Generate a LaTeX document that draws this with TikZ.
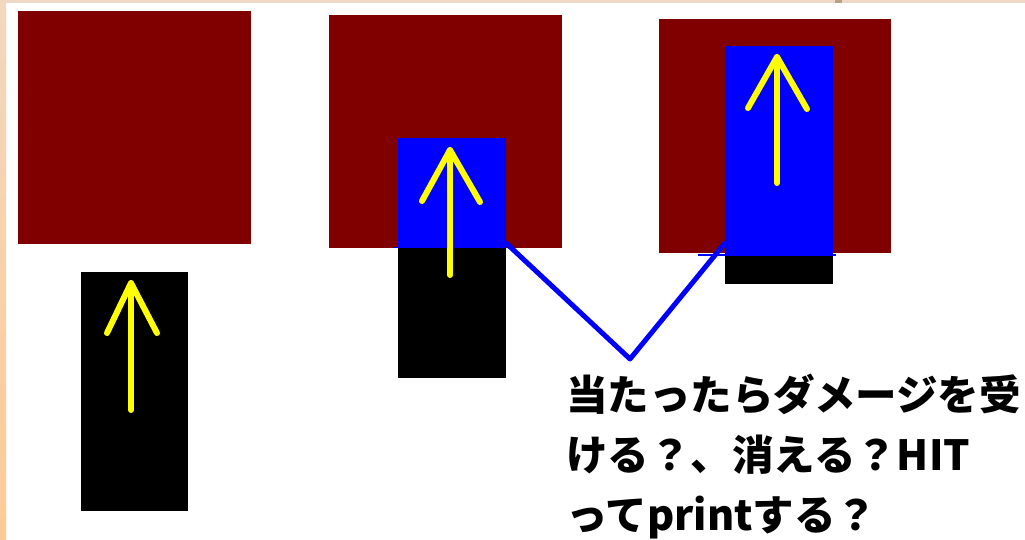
\documentclass[tikz,border=0pt]{standalone}
\usepackage{fontspec}
\newfontfamily\jpfont{Noto Sans CJK JP}
\definecolor{darkred}{HTML}{800000}
\definecolor{pureblue}{HTML}{0000FF}
\definecolor{pureyellow}{HTML}{FFFF00}
\definecolor{edgetop}{HTML}{EED9C6}
\definecolor{edgeleft}{HTML}{F2D7BF}
\definecolor{edgeleftlow}{HTML}{FDCB97}
\definecolor{edgemark}{HTML}{B9A086}
\begin{document}
\begin{tikzpicture}[x=1pt,y=-1pt,
  box/.style={inner sep=0pt, outer sep=0pt, anchor=north west, draw=none},
  enemy/.style={box, fill=darkred},
  player/.style={box, fill=black},
  hitbox/.style={box, fill=pureblue},
  arrowline/.style={draw=pureyellow, line width=6pt, line cap=round, line join=round},
  hitline/.style={draw=pureblue, line width=5pt, line cap=round, line join=round},
  thinline/.style={draw=pureblue, line width=1.2pt},
  note/.style={inner sep=0pt, anchor=base west, align=left, font=\jpfont\bfseries\fontsize{41.5}{60}\selectfont}]
\useasboundingbox (0,0) rectangle (1025,539);
\fill[white] (0,0) rectangle (1025,539);
\fill[edgetop] (0,0) rectangle (1025,3);
\fill[edgemark] (835,0) rectangle (842,3);
\shade[top color=edgeleft, bottom color=edgeleftlow] (0,0) rectangle (6,539);

% scene 1
\node[enemy, minimum width=233pt, minimum height=233pt] (red1) at (18,11) {};
\node[player, minimum width=107pt, minimum height=239pt] (black1) at (81,272) {};
\draw[arrowline] (131,410) -- (131,283);
\draw[arrowline] (107,333) -- (131,283) -- (157,333);

% scene 2
\node[enemy, minimum width=233pt, minimum height=233pt] (red2) at (329,15) {};
\node[player, minimum width=108pt, minimum height=130pt] (black2) at (398,248) {};
\node[hitbox, minimum width=108pt, minimum height=110pt] (blue2) at (398,138) {};
\draw[thinline] (393,247.5) -- (452,247.5);
\draw[arrowline] (450,275) -- (450,150);
\draw[arrowline] (422,201) -- (450,150) -- (480,202);

% scene 3
\node[enemy, minimum width=232pt, minimum height=234pt] (red3) at (659,19) {};
\node[player, minimum width=108pt, minimum height=29pt] (black3) at (725,255) {};
\node[hitbox, minimum width=108pt, minimum height=209pt] (blue3) at (725,46) {};
\draw[thinline] (698,255) -- (836,255);
\draw[arrowline] (777,183) -- (777,57);
\draw[arrowline] (748,108) -- (777,57) -- (807,109);

% connector
\coordinate (vtip) at (630,359);
\draw[hitline] ([yshift=5pt]blue2.south east) -- (vtip) -- ([yshift=12pt]blue3.south west);

% note (base anchor = baseline of the last line)
\node[note] (text) at (566,530) {当たったらダメージを受\\ける？、消える？HIT\\ってprintする？};
\end{tikzpicture}
\end{document}
